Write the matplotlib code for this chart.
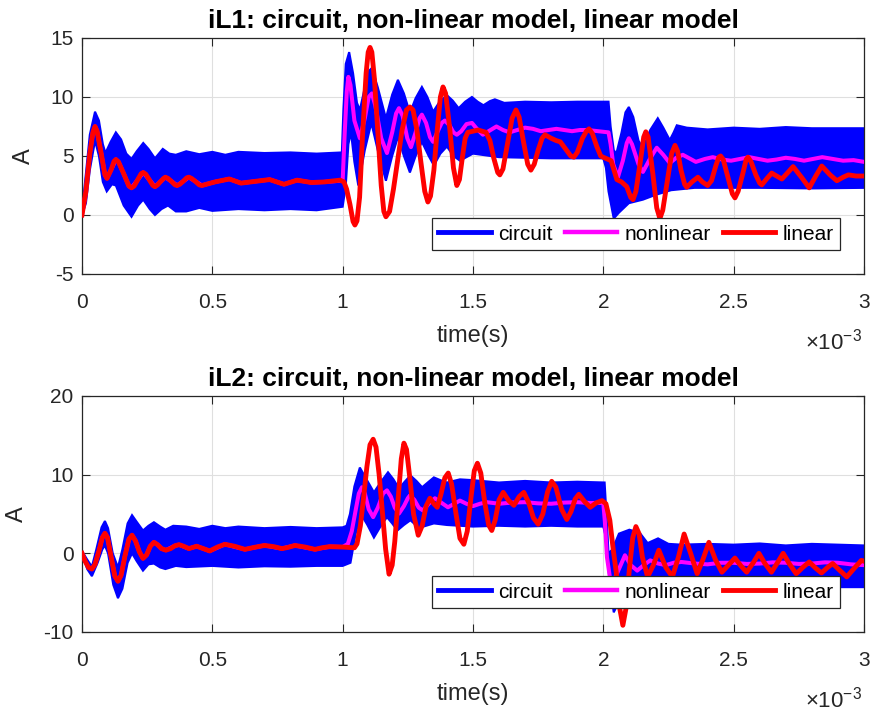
"""iL1 / iL2 comparison: switching circuit vs. non-linear and linear averaged models."""

import matplotlib
matplotlib.use("Agg")
import matplotlib.pyplot as plt
from matplotlib.lines import Line2D
import numpy as np

plt.rcParams["font.family"] = ["Liberation Sans", "DejaVu Sans"]
plt.rcParams["mathtext.fontset"] = "custom"
plt.rcParams["mathtext.rm"] = "Liberation Sans"
plt.rcParams["mathtext.it"] = "Liberation Sans:italic"
plt.rcParams["axes.unicode_minus"] = False

# (time in ms, current in A) pairs

# ---- iL1 ----
il1_lin = np.array([
    (0, 0), (0.015, 2.0), (0.03, 5.2), (0.042, 7.0), (0.05, 7.5), (0.058, 7.1), (0.073, 5.3),
    (0.088, 3.4), (0.096, 3.1), (0.113, 3.9), (0.123, 4.55), (0.13, 4.7), (0.14, 4.5),
    (0.16, 3.5), (0.18, 2.45), (0.19, 2.3), (0.2, 2.45), (0.213, 2.95), (0.227, 3.5),
    (0.235, 3.6), (0.245, 3.45), (0.258, 3.0), (0.272, 2.5), (0.28, 2.4), (0.29, 2.55),
    (0.3, 2.8), (0.313, 3.1), (0.32, 3.2), (0.33, 3.1), (0.343, 2.85), (0.357, 2.55),
    (0.365, 2.5), (0.375, 2.6), (0.388, 2.85), (0.402, 3.15), (0.41, 3.2), (0.42, 3.1),
    (0.435, 2.85), (0.45, 2.55), (0.46, 2.5), (0.51, 2.8), (0.565, 3.05), (0.61, 2.7),
    (0.665, 2.85), (0.72, 3.0), (0.775, 2.6), (0.825, 2.95), (0.88, 2.75), (0.93, 2.8),
    (0.99, 2.95), (1.005, 2.8), (1.015, 2.2), (1.028, 0.9), (1.04, -0.55), (1.047, -0.85),
    (1.055, -0.5), (1.065, 1.5), (1.076, 6.6), (1.09, 12.0), (1.098, 13.8), (1.105, 14.2),
    (1.112, 13.8), (1.122, 11.5), (1.135, 7.0), (1.148, 2.5), (1.158, 0.3), (1.166, -0.15),
    (1.18, 0.3), (1.195, 2.2), (1.21, 4.5), (1.228, 7.2), (1.245, 8.9), (1.258, 9.15),
    (1.27, 8.9), (1.285, 7.2), (1.3, 4.5), (1.315, 2.0), (1.327, 1.1), (1.337, 1.6),
    (1.35, 3.8), (1.362, 7.0), (1.375, 10.0), (1.385, 10.85), (1.395, 10.3), (1.41, 7.5),
    (1.425, 4.0), (1.438, 2.5), (1.448, 3.0), (1.46, 5.0), (1.47, 6.5), (1.48, 7.0),
    (1.52, 7.2), (1.55, 7.0), (1.565, 6.3), (1.58, 4.8), (1.595, 3.6), (1.603, 3.4),
    (1.615, 3.9), (1.632, 6.0), (1.65, 8.2), (1.665, 8.9), (1.677, 8.3), (1.693, 6.3),
    (1.71, 4.3), (1.722, 3.8), (1.735, 4.3), (1.75, 5.5), (1.765, 6.5), (1.776, 6.8),
    (1.8, 6.5), (1.82, 6.3), (1.835, 6.2), (1.855, 5.6), (1.875, 5.0), (1.887, 4.9),
    (1.9, 5.3), (1.92, 6.5), (1.935, 7.1), (1.945, 7.3), (1.958, 6.9), (1.975, 5.8),
    (1.99, 5.0), (1.999, 4.9), (2.03, 4.6), (2.052, 3.0), (2.07, 2.8), (2.09, 2.4),
    (2.105, 1.5), (2.114, 1.3), (2.125, 2.0), (2.14, 4.2), (2.155, 6.6), (2.163, 7.05),
    (2.172, 6.6), (2.19, 3.5), (2.205, 0.6), (2.217, -0.3), (2.228, 0.4), (2.245, 2.8),
    (2.262, 5.2), (2.275, 5.9), (2.285, 5.4), (2.298, 3.8), (2.312, 2.6), (2.32, 2.35),
    (2.34, 2.8), (2.363, 3.2), (2.38, 2.8), (2.4, 2.5), (2.415, 2.9), (2.432, 4.2),
    (2.443, 4.9), (2.45, 5.0), (2.46, 4.7), (2.478, 3.2), (2.495, 1.8), (2.505, 1.45),
    (2.517, 2.0), (2.535, 3.5), (2.548, 4.7), (2.555, 4.9), (2.567, 4.5), (2.585, 3.4),
    (2.6, 2.7), (2.608, 2.55), (2.628, 3.1), (2.646, 3.55), (2.665, 3.3), (2.685, 3.05),
    (2.708, 3.6), (2.728, 4.1), (2.76, 3.2), (2.79, 2.3), (2.815, 3.3), (2.838, 4.15),
    (2.87, 3.4), (2.896, 2.9), (2.92, 3.2), (2.94, 3.4), (2.97, 3.3), (3.0, 3.3),
])

il1_nl = np.array([
    (0, 0), (0.015, 2.0), (0.03, 5.2), (0.042, 7.0), (0.05, 7.5), (0.058, 7.1), (0.073, 5.3),
    (0.088, 3.4), (0.096, 3.1), (0.113, 3.9), (0.13, 4.7), (0.14, 4.5), (0.16, 3.5),
    (0.18, 2.45), (0.19, 2.3), (0.213, 2.95), (0.235, 3.6), (0.258, 3.0), (0.28, 2.4),
    (0.3, 2.8), (0.32, 3.2), (0.343, 2.85), (0.365, 2.5), (0.388, 2.85), (0.41, 3.2),
    (0.435, 2.85), (0.46, 2.5), (0.51, 2.8), (0.565, 3.05), (0.61, 2.7), (0.665, 2.85),
    (0.72, 3.0), (0.775, 2.6), (0.825, 2.95), (0.88, 2.75), (0.93, 2.8), (0.99, 2.9),
    (1.0, 2.9), (1.008, 7.0), (1.016, 10.5), (1.022, 11.7), (1.03, 11.0), (1.045, 8.0),
    (1.066, 6.5), (1.085, 8.2), (1.1, 10.0), (1.112, 10.3), (1.125, 9.3), (1.148, 6.5),
    (1.17, 5.25), (1.19, 7.0), (1.205, 8.6), (1.216, 9.05), (1.23, 8.4), (1.248, 6.5),
    (1.262, 5.75), (1.28, 7.0), (1.295, 8.2), (1.304, 8.5), (1.32, 7.8), (1.335, 6.6),
    (1.347, 6.2), (1.365, 7.1), (1.38, 7.8), (1.392, 8.0), (1.41, 7.6), (1.425, 7.0),
    (1.438, 6.8), (1.455, 7.1), (1.475, 7.7), (1.496, 7.8), (1.515, 7.3), (1.538, 6.8),
    (1.56, 7.1), (1.59, 7.5), (1.615, 7.2), (1.64, 7.0), (1.67, 7.2), (1.7, 7.4),
    (1.73, 7.3), (1.76, 7.1), (1.79, 7.2), (1.82, 7.3), (1.85, 7.2), (1.88, 7.1),
    (1.91, 7.2), (1.94, 7.2), (1.98, 7.1), (2.02, 7.0), (2.028, 6.0), (2.038, 4.3),
    (2.056, 3.2), (2.075, 4.6), (2.09, 6.1), (2.098, 6.5), (2.11, 6.0), (2.135, 4.3),
    (2.152, 3.65), (2.18, 4.8), (2.205, 5.7), (2.23, 5.1), (2.255, 4.4), (2.28, 4.85),
    (2.305, 5.1), (2.33, 4.8), (2.355, 4.5), (2.39, 4.75), (2.42, 4.9), (2.455, 4.7),
    (2.49, 4.6), (2.525, 4.75), (2.56, 4.9), (2.595, 4.75), (2.63, 4.6), (2.665, 4.7),
    (2.7, 4.85), (2.735, 4.75), (2.77, 4.6), (2.805, 4.75), (2.84, 4.9), (2.88, 4.75),
    (2.92, 4.6), (2.96, 4.65), (3.0, 4.5),
])

il1_up = np.array([
    (0, 0.3), (0.015, 3.5), (0.03, 6.8), (0.05, 8.75), (0.065, 8.0), (0.08, 6.0),
    (0.09, 5.25), (0.11, 6.2), (0.13, 7.0), (0.15, 6.4), (0.17, 5.2), (0.19, 4.75),
    (0.21, 5.4), (0.235, 6.1), (0.255, 5.6), (0.28, 4.8), (0.295, 5.2), (0.31, 5.6),
    (0.335, 5.2), (0.36, 5.1), (0.4, 5.4), (0.45, 5.15), (0.5, 5.35), (0.55, 5.1),
    (0.6, 5.35), (0.7, 5.25), (0.8, 5.3), (0.9, 5.2), (0.997, 5.3), (1.003, 9.0),
    (1.012, 12.8), (1.025, 13.8), (1.04, 12.0), (1.055, 9.5), (1.066, 8.9), (1.085, 10.8),
    (1.1, 12.2), (1.112, 12.45), (1.135, 10.8), (1.166, 8.2), (1.19, 10.2), (1.212, 11.45),
    (1.235, 10.3), (1.258, 8.65), (1.28, 9.9), (1.304, 10.85), (1.325, 10.0),
    (1.347, 8.75), (1.372, 9.6), (1.4, 10.15), (1.422, 9.7), (1.445, 9.05), (1.47, 9.6),
    (1.496, 10.0), (1.518, 9.6), (1.54, 9.3), (1.565, 9.65), (1.584, 9.8), (1.62, 9.5),
    (1.7, 9.6), (1.8, 9.55), (1.9, 9.6), (2.02, 9.6), (2.028, 7.5), (2.04, 5.5),
    (2.05, 5.2), (2.07, 7.0), (2.085, 8.7), (2.098, 9.15), (2.115, 8.3), (2.135, 6.3),
    (2.152, 5.65), (2.18, 7.2), (2.209, 8.2), (2.23, 7.4), (2.255, 6.35), (2.27, 7.0),
    (2.282, 7.6), (2.32, 7.4), (2.4, 7.25), (2.5, 7.4), (2.6, 7.3), (2.7, 7.45),
    (2.8, 7.35), (3.0, 7.35),
])
il1_lo = np.array([
    (0, 0), (0.015, 1.0), (0.03, 3.8), (0.05, 6.3), (0.065, 5.0), (0.08, 2.8),
    (0.095, 2.0), (0.115, 2.6), (0.13, 2.5), (0.16, 0.8), (0.19, -0.15), (0.215, 0.8),
    (0.235, 1.3), (0.26, 0.5), (0.28, 0.0), (0.305, 0.5), (0.33, 0.8), (0.36, 0.3),
    (0.4, 0.3), (0.45, 0.6), (0.5, 0.35), (0.6, 0.5), (0.7, 0.4), (0.8, 0.5), (0.9, 0.4),
    (1.0, 0.7), (1.012, 2.5), (1.022, 6.0), (1.032, 7.0), (1.045, 4.5), (1.06, 2.5),
    (1.085, 5.5), (1.11, 7.8), (1.14, 5.0), (1.166, 2.9), (1.19, 5.0), (1.212, 6.6),
    (1.235, 5.0), (1.258, 3.6), (1.28, 5.0), (1.304, 6.2), (1.33, 5.0), (1.35, 4.2),
    (1.375, 5.2), (1.4, 5.8), (1.425, 5.0), (1.45, 4.6), (1.5, 5.2), (1.6, 4.9),
    (1.8, 4.8), (2.0, 4.8), (2.01, 4.0), (2.02, 2.0), (2.04, -0.3), (2.06, 0.2),
    (2.098, 1.0), (2.152, 1.3), (2.2, 1.7), (2.26, 2.1), (2.35, 2.3), (2.6, 2.3),
    (2.8, 2.25), (3.0, 2.3),
])

# ---- iL2 ----
il2_lin = np.array([
    (0, 0), (0.012, -1.0), (0.025, -1.8), (0.038, -2.0), (0.05, -1.4), (0.065, 0.3),
    (0.078, 2.0), (0.088, 2.55), (0.098, 2.0), (0.112, -0.5), (0.126, -2.9), (0.138, -3.55),
    (0.15, -2.8), (0.165, -0.3), (0.18, 1.8), (0.192, 2.3), (0.205, 1.6), (0.22, 0.2),
    (0.234, -0.65), (0.248, -0.2), (0.262, 0.9), (0.276, 1.4), (0.29, 1.1), (0.305, 0.6),
    (0.322, 0.4), (0.34, 0.6), (0.356, 0.95), (0.372, 1.1), (0.39, 0.9), (0.41, 0.6),
    (0.44, 0.9), (0.465, 0.6), (0.49, 0.3), (0.52, 0.8), (0.548, 1.15), (0.585, 0.9),
    (0.625, 0.5), (0.66, 0.75), (0.70, 1.0), (0.735, 0.85), (0.767, 0.6), (0.79, 0.75),
    (0.817, 1.0), (0.855, 0.8), (0.894, 0.5), (0.92, 0.7), (0.95, 0.85), (1.0, 0.8),
    (1.045, 0.7), (1.055, 1.2), (1.068, 3.5), (1.08, 7.0), (1.093, 11.0), (1.105, 13.8),
    (1.117, 14.5), (1.128, 13.5), (1.14, 10.0), (1.153, 5.0), (1.165, 0.5), (1.178, -2.65),
    (1.19, -1.5), (1.2, 1.5), (1.212, 6.5), (1.225, 12.0), (1.235, 14.0), (1.245, 13.2),
    (1.258, 9.5), (1.272, 5.0), (1.29, 2.3), (1.305, 3.5), (1.32, 6.0), (1.335, 7.0),
    (1.35, 6.3), (1.363, 5.85), (1.377, 7.5), (1.392, 9.6), (1.405, 10.2), (1.418, 8.8),
    (1.435, 5.0), (1.45, 1.9), (1.465, 1.15), (1.478, 2.8), (1.492, 7.0), (1.505, 10.5),
    (1.517, 11.45), (1.53, 10.2), (1.545, 6.5), (1.56, 3.6), (1.572, 2.9), (1.585, 4.2),
    (1.6, 6.8), (1.616, 7.75), (1.637, 6.7), (1.657, 6.1), (1.677, 7.2), (1.695, 7.75),
    (1.713, 6.5), (1.732, 4.5), (1.75, 3.7), (1.768, 5.0), (1.786, 7.8), (1.802, 9.15),
    (1.818, 8.4), (1.84, 5.6), (1.86, 4.3), (1.876, 5.3), (1.892, 6.9), (1.906, 7.5),
    (1.93, 6.5), (1.95, 5.85), (1.972, 6.4), (1.995, 6.7), (2.01, 6.3), (2.025, 4.2),
    (2.038, 0.5), (2.05, -2.5), (2.063, -7.0), (2.075, -9.15), (2.087, -7.0), (2.1, -2.0),
    (2.113, 2.0), (2.125, 3.4), (2.137, 2.5), (2.15, -0.5), (2.17, -3.0), (2.192, -1.5),
    (2.213, 0.4), (2.24, -1.8), (2.265, -3.0), (2.288, -0.5), (2.31, 2.45), (2.335, 0.0),
    (2.36, -2.6), (2.382, -0.8), (2.405, 1.4), (2.43, -0.8), (2.455, -2.4), (2.48, -1.5),
    (2.505, -0.6), (2.528, -1.6), (2.55, -2.4), (2.575, -1.2), (2.597, 0.0), (2.62, -1.3),
    (2.645, -2.4), (2.668, -1.2), (2.69, 0.0), (2.715, -1.4), (2.74, -2.6), (2.765, -1.8),
    (2.79, -1.1), (2.815, -1.9), (2.837, -2.5), (2.86, -1.8), (2.88, -1.3), (2.908, -2.2),
    (2.934, -3.0), (2.96, -2.0), (2.99, -0.9), (3.0, -1.0),
])

il2_nl = np.array([
    (0, 0), (0.012, -1.0), (0.025, -1.8), (0.038, -2.0), (0.05, -1.4), (0.065, 0.3),
    (0.078, 2.0), (0.088, 2.55), (0.098, 2.0), (0.112, -0.5), (0.126, -2.9), (0.138, -3.55),
    (0.15, -2.8), (0.165, -0.3), (0.18, 1.8), (0.192, 2.3), (0.205, 1.6), (0.22, 0.2),
    (0.234, -0.65), (0.248, -0.2), (0.262, 0.9), (0.276, 1.4), (0.29, 1.1), (0.305, 0.6),
    (0.322, 0.4), (0.356, 0.95), (0.372, 1.1), (0.41, 0.6), (0.44, 0.9), (0.49, 0.3),
    (0.548, 1.15), (0.625, 0.5), (0.70, 1.0), (0.767, 0.6), (0.817, 1.0), (0.894, 0.5),
    (0.95, 0.85), (1.0, 0.8), (1.02, 1.2), (1.035, 2.8), (1.05, 5.5), (1.062, 7.6),
    (1.074, 8.4), (1.085, 7.6), (1.1, 5.6), (1.117, 4.6), (1.135, 5.8), (1.155, 7.6),
    (1.17, 8.0), (1.185, 7.2), (1.2, 5.8), (1.216, 5.05), (1.235, 6.0), (1.25, 7.0),
    (1.258, 7.35), (1.275, 6.8), (1.292, 5.8), (1.308, 5.45), (1.33, 6.3), (1.354, 7.0),
    (1.38, 6.4), (1.404, 5.85), (1.428, 6.3), (1.45, 6.7), (1.475, 6.3), (1.5, 6.0),
    (1.527, 6.3), (1.553, 6.5), (1.6, 6.3), (1.65, 6.45), (1.7, 6.5), (1.75, 6.35),
    (1.8, 6.3), (1.85, 6.45), (1.9, 6.5), (1.95, 6.4), (2.0, 6.4), (2.006, 4.0),
    (2.014, -0.5), (2.025, -3.0), (2.04, -3.5), (2.06, -2.0), (2.083, -0.25), (2.105, -1.5),
    (2.13, -2.2), (2.155, -1.5), (2.18, -0.9), (2.21, -1.3), (2.24, -1.5), (2.27, -1.2),
    (2.3, -1.1), (2.35, -1.3), (2.4, -1.4), (2.45, -1.2), (2.5, -1.2), (2.55, -1.35),
    (2.6, -1.3), (2.65, -1.15), (2.7, -1.2), (2.75, -1.35), (2.8, -1.3), (2.85, -1.15),
    (2.9, -1.2), (2.95, -1.4), (3.0, -1.5),
])

il2_up = np.array([
    (0, 0.3), (0.02, -0.8), (0.038, -1.7), (0.055, 0.5), (0.075, 3.3), (0.088, 4.1),
    (0.1, 3.2), (0.118, 0.0), (0.138, -1.8), (0.155, 0.5), (0.175, 3.8), (0.192, 4.85),
    (0.21, 4.0), (0.234, 2.9), (0.255, 3.5), (0.276, 3.95), (0.3, 3.4), (0.32, 3.0),
    (0.35, 3.5), (0.4, 3.4), (0.45, 3.1), (0.5, 3.5), (0.55, 3.2), (0.6, 3.4), (0.7, 3.2),
    (0.8, 3.35), (0.9, 3.2), (1.0, 3.3), (1.015, 3.5), (1.028, 5.0), (1.045, 8.5),
    (1.066, 10.9), (1.09, 9.5), (1.12, 7.75), (1.145, 9.0), (1.174, 10.3), (1.195, 9.4),
    (1.216, 8.25), (1.238, 9.1), (1.26, 9.9), (1.283, 9.2), (1.305, 8.4), (1.33, 9.1),
    (1.35, 9.65), (1.375, 9.3), (1.4, 9.0), (1.45, 9.4), (1.5, 9.3), (1.6, 9.0),
    (1.7, 9.2), (1.8, 9.0), (1.9, 9.1), (2.005, 9.0), (2.012, 5.0), (2.02, 0.0),
    (2.035, 0.5), (2.06, 2.5), (2.1, 3.0), (2.14, 2.6), (2.17, 1.3), (2.21, 1.9),
    (2.25, 1.2), (2.3, 1.1), (2.4, 1.2), (2.5, 1.1), (2.6, 1.25), (2.7, 1.0),
    (2.8, 1.2), (3.0, 1.0),
])
il2_lo = np.array([
    (0, 0), (0.02, -2.0), (0.038, -2.9), (0.06, -1.2), (0.078, 0.5), (0.088, 1.0),
    (0.1, 0.0), (0.12, -4.0), (0.138, -5.7), (0.155, -4.5), (0.175, -1.2), (0.192, 0.0),
    (0.21, -1.0), (0.234, -2.2), (0.255, -1.4), (0.276, -1.3), (0.3, -1.8), (0.32, -2.0),
    (0.36, -1.6), (0.4, -1.75), (0.5, -1.6), (0.6, -1.8), (0.7, -1.65), (0.8, -1.7),
    (0.9, -1.6), (1.0, -1.6), (1.03, -1.2), (1.05, 2.5), (1.07, 5.0), (1.095, 3.6),
    (1.12, 2.0), (1.145, 3.4), (1.17, 4.6), (1.19, 3.8), (1.21, 2.9), (1.235, 3.6),
    (1.26, 4.2), (1.28, 3.6), (1.3, 3.3), (1.35, 3.8), (1.4, 3.6), (1.5, 3.4), (1.6, 3.5),
    (1.7, 3.4), (1.8, 3.5), (1.9, 3.4), (2.0, 3.4), (2.01, 2.0), (2.025, -4.0),
    (2.04, -7.5), (2.055, -6.5), (2.07, -5.0), (2.12, -4.0), (2.2, -4.5), (2.3, -4.2),
    (2.4, -4.2), (2.7, -4.3), (3.0, -4.3),
])

xtick_labels = ["0", "0.5", "1", "1.5", "2", "2.5", "3"]

panels = [
    ("iL1: circuit, non-linear model, linear model", il1_up, il1_lo, il1_nl, il1_lin,
     [-5, 15], [-5, 0, 5, 10, 15]),
    ("iL2: circuit, non-linear model, linear model", il2_up, il2_lo, il2_nl, il2_lin,
     [-10, 20], [-10, 0, 10, 20]),
]

fig = plt.figure(figsize=(8.75, 7.15), dpi=100)
axes = [fig.add_axes([0.0937, 0.6168, 0.8937, 0.3301]),
        fig.add_axes([0.0937, 0.1161, 0.8937, 0.3301])]

for ax, (title, up, lo, nl, lin, ylim, yticks) in zip(axes, panels):
    # circuit ripple drawn as its envelope (upper edge, then lower edge backwards)
    env = np.vstack([up, lo[::-1]])
    ax.fill(env[:, 0] * 1e-3, env[:, 1], color="#0000ff", lw=1.5, zorder=2)
    ax.plot(nl[:, 0] * 1e-3, nl[:, 1], color="#ff00ff", lw=2.9, zorder=3,
            solid_joinstyle="round")
    ax.plot(lin[:, 0] * 1e-3, lin[:, 1], color="#ff0000", lw=3.5, zorder=4,
            solid_joinstyle="round")

    ax.set_xlim(0, 3e-3)
    ax.set_ylim(*ylim)
    ax.set_xticks(np.arange(7) * 0.5e-3)
    ax.set_xticklabels(xtick_labels)
    ax.set_yticks(yticks)
    ax.grid(True, color="#dfdfdf", lw=0.8)
    ax.set_axisbelow(True)
    ax.tick_params(direction="in", top=True, right=True, length=5.5, width=0.8,
                   labelsize=15, colors="#262626")
    ax.tick_params(axis="x", pad=14)
    ax.tick_params(axis="y", pad=6)
    for s in ax.spines.values():
        s.set_color("#262626")
        s.set_linewidth(0.9)

    ax.set_title(title, fontsize=19, fontweight="bold", pad=7)
    ax.set_xlabel("time(s)", fontsize=17, color="#262626", labelpad=9)
    ax.set_ylabel("A", fontsize=17, color="#262626", labelpad=11)
    ax.text(0.997, -0.288, r"$\times10^{-3}$", transform=ax.transAxes, ha="right",
            va="center", fontsize=16, color="#262626")

    handles = [Line2D([], [], color="#0000ff", lw=3.5),
               Line2D([], [], color="#ff00ff", lw=3.2),
               Line2D([], [], color="#ff0000", lw=3.5)]
    leg = ax.legend(handles, ["circuit", "nonlinear", "linear"], ncol=3,
                    loc="lower right", bbox_to_anchor=(0.969, 0.102), borderaxespad=0,
                    fontsize=15, handlelength=2.5, handletextpad=0.35,
                    columnspacing=0.6, borderpad=0.3, fancybox=False, framealpha=1)
    leg.get_frame().set_edgecolor("#262626")
    leg.get_frame().set_linewidth(0.9)
    leg.set_zorder(10)

fig.savefig("out.png", dpi=100)
